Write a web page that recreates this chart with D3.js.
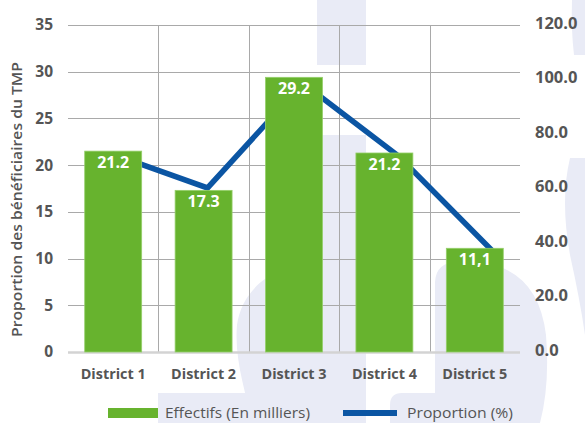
<!DOCTYPE html>
<html>
<head>
<meta charset="utf-8">
<script src="https://cdn.jsdelivr.net/npm/d3@7"></script>
<style>
  html, body { margin: 0; padding: 0; background: #ffffff; }
  svg { display: block; }
  text { font-family: "Open Sans", "Noto Sans", sans-serif; }
</style>
</head>
<body>
<svg id="chart" width="585" height="423"></svg>
<script>
// ---- data ----
const districts = ["District 1", "District 2", "District 3", "District 4", "District 5"];
const effectifs = [21.5, 17.3, 29.4, 21.3, 11.1];
const effectifLabels = ["21.2", "17.3", "29.2", "21.2", "11,1"];
const proportion = [72.7, 60.2, 98.6, 71.9, 36.5];
const leftTicks = [0, 5, 10, 15, 20, 25, 30, 35];
const rightTicks = [0, 20, 40, 60, 80, 100, 120];
const legendLabels = ["Effectifs (En milliers)", "Proportion (%)"];
const yTitle = "Proportion des bénéficiaires du TMP";

// ---- layout ----
const svg = d3.select("#chart");
const plot = { left: 68, right: 520, top: 25, bottom: 352 };
const green = "#67b32e";
const blue = "#0b55a3";
const textColor = "#555555";
const lavender = "#e9ebf6";

// watermark (background decoration)
const wm = svg.append("g").attr("fill", lavender);
wm.append("rect").attr("x", 317).attr("y", 0).attr("width", 49).attr("height", 65);
wm.append("rect").attr("x", 317).attr("y", 135).attr("width", 49).attr("height", 288);
wm.append("path").attr("d", "M317 262 C275 264 242 288 237 325 C234 360 246 392 252 423 L317 423 Z");
wm.append("rect").attr("x", 158).attr("y", 393).attr("width", 95).attr("height", 30);
wm.append("path").attr("d", "M390 423 L390 405 Q390 393 402 393 L435 393 L435 282 Q436 262 458 262 L478 262 Q538 268 546 335 Q550 385 540 423 Z");
wm.append("path").attr("d", "M572 0 L585 0 L585 55 L574 55 Q571 30 572 0 Z");
wm.append("path").attr("d", "M570 158 Q560 200 570 255 Q580 300 585 335 L585 158 Z");

// scales
const x = d3.scaleBand().domain(districts).range([plot.left, plot.right])
  .paddingInner(0.37).paddingOuter(0.185);
const xLine = d3.scalePoint().domain(districts).range([112, 494]);
const yL = d3.scaleLinear().domain([0, 35]).range([plot.bottom, plot.top]);
const yR = d3.scaleLinear().domain([0, 120]).range([plot.bottom, plot.top]);

// horizontal gridlines
svg.append("g").selectAll("line").data(leftTicks.filter(d => d > 0)).join("line")
  .attr("x1", plot.left).attr("x2", plot.right)
  .attr("y1", d => Math.round(yL(d)) + 0.5).attr("y2", d => Math.round(yL(d)) + 0.5)
  .attr("stroke", "#a9a9a9").attr("stroke-width", 1);

// vertical gridlines between categories
const step = x.step();
svg.append("g").selectAll("line").data(districts.slice(1)).join("line")
  .attr("x1", d => Math.round(x(d) - x.paddingInner() * step / 2) + 0.5)
  .attr("x2", d => Math.round(x(d) - x.paddingInner() * step / 2) + 0.5)
  .attr("y1", plot.top).attr("y2", plot.bottom)
  .attr("stroke", "#a9a9a9").attr("stroke-width", 1);

// baseline
svg.append("line").attr("x1", plot.left).attr("x2", plot.right)
  .attr("y1", yL(0) + 0.5).attr("y2", yL(0) + 0.5)
  .attr("stroke", "#d3d3d3").attr("stroke-width", 2.5);

// proportion line (behind bars)
const line = d3.line().x((d, i) => xLine(districts[i])).y(d => yR(d));
svg.append("path").datum(proportion).attr("d", line)
  .attr("fill", "none").attr("stroke", blue).attr("stroke-width", 5.5)
  .attr("stroke-linejoin", "miter");

// bars
svg.append("g").selectAll("rect").data(effectifs).join("rect")
  .attr("x", (d, i) => x(districts[i]))
  .attr("y", d => yL(d))
  .attr("width", x.bandwidth())
  .attr("height", d => yL(0) - yL(d))
  .attr("fill", green)
  .attr("stroke", "#95cf6a").attr("stroke-width", 0.8);

// bar labels
svg.append("g").selectAll("text").data(effectifs).join("text")
  .attr("x", (d, i) => x(districts[i]) + x.bandwidth() / 2)
  .attr("y", d => yL(d) + 17)
  .attr("text-anchor", "middle")
  .attr("fill", "#ffffff").attr("font-size", 16).attr("font-weight", 700)
  .text((d, i) => effectifLabels[i]);

// left axis
const axL = svg.append("g").attr("transform", `translate(${plot.left},0)`)
  .call(d3.axisLeft(yL).tickValues(leftTicks).tickSize(0).tickPadding(15));
axL.select(".domain").remove();
axL.selectAll("text").attr("fill", textColor).attr("font-size", 15.5).attr("font-weight", 700)
  .attr("font-family", "'Open Sans', sans-serif");

// right axis
const axR = svg.append("g").attr("transform", `translate(${plot.right},-2)`)
  .call(d3.axisRight(yR).tickValues(rightTicks).tickFormat(d3.format(".1f")).tickSize(0).tickPadding(15));
axR.select(".domain").remove();
axR.selectAll("text").attr("fill", textColor).attr("font-size", 16.5).attr("font-weight", 700)
  .attr("font-family", "'Open Sans', sans-serif");

// bottom axis
const axB = svg.append("g").attr("transform", `translate(0,${plot.bottom})`)
  .call(d3.axisBottom(x).tickSize(0).tickPadding(17));
axB.select(".domain").remove();
axB.selectAll("text").attr("fill", textColor).attr("font-size", 14).attr("font-weight", 700)
  .attr("font-family", "'Open Sans', sans-serif")
  .attr("textLength", 65).attr("lengthAdjust", "spacingAndGlyphs");

// y title
svg.append("text")
  .attr("transform", "translate(22,199.5) rotate(-90)")
  .attr("text-anchor", "middle")
  .attr("fill", textColor).attr("font-size", 14.5).attr("font-weight", 600)
  .attr("textLength", 275).attr("lengthAdjust", "spacingAndGlyphs")
  .text(yTitle);

// legend
const lg = svg.append("g");
lg.append("rect").attr("x", 108).attr("y", 408).attr("width", 50).attr("height", 10).attr("fill", green);
lg.append("text").attr("x", 165).attr("y", 418).attr("fill", textColor)
  .attr("font-size", 15)
  .attr("textLength", 145).attr("lengthAdjust", "spacingAndGlyphs")
  .text(legendLabels[0]);
lg.append("line").attr("x1", 343).attr("x2", 397).attr("y1", 413).attr("y2", 413)
  .attr("stroke", blue).attr("stroke-width", 6);
lg.append("text").attr("x", 407).attr("y", 418).attr("fill", textColor)
  .attr("font-size", 15)
  .attr("textLength", 106).attr("lengthAdjust", "spacingAndGlyphs")
  .text(legendLabels[1]);
</script>
</body>
</html>
